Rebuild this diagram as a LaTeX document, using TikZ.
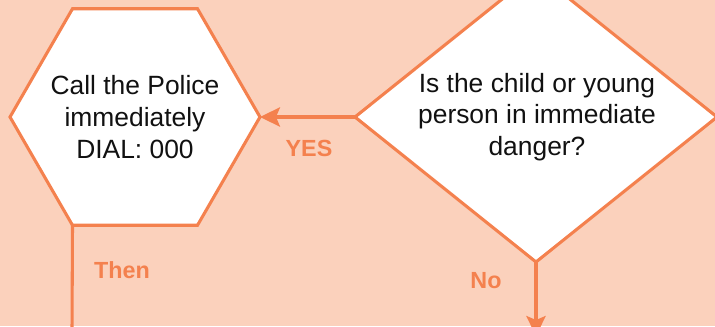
\documentclass[tikz,border=0pt]{standalone}
\usepackage{fontspec}
\setmainfont{Liberation Sans}
\usetikzlibrary{shapes.geometric,arrows.meta}
\definecolor{bgpeach}{HTML}{FBD1BC}
\definecolor{flowor}{HTML}{F4814E}
\definecolor{txtdark}{HTML}{111111}
\tikzset{
  shapeline/.style={draw=flowor, line width=2.3pt, fill=white},
  bodytext/.style={text=txtdark, align=center, font=\fontsize{19.8pt}{23.8pt}\selectfont, inner sep=0pt},
  flowlabel/.style={text=flowor, font=\bfseries\fontsize{17.5pt}{20pt}\selectfont, inner sep=0pt},
  flowline/.style={draw=flowor, line width=2.3pt},
  flowarrow/.style={flowline, -{Stealth[length=15pt, width=14.5pt, inset=3pt]}}
}
\begin{document}
\begin{tikzpicture}[x=0.75pt, y=0.75pt]
  \useasboundingbox (0,0) rectangle (715,326);
  \fill[bgpeach] (0,0) rectangle (715,326);
  \clip (0,0) rectangle (715,326);
  % hexagon
  \node[shapeline, regular polygon, regular polygon sides=6, minimum size=187.5pt, inner sep=0pt, outer sep=0pt] (hex) at (135,209) {};
  \node[bodytext] (hextext) at (135,209) {Call the Police\\immediately\\DIAL: 000};
  % diamond
  \node[shapeline, diamond, minimum width=271.5pt, minimum height=217.5pt, inner sep=0pt, outer sep=0pt] (dia) at (536,209) {};
  \node[bodytext] (diatext) at (537,209) {Is the child or young\\person in immediate\\danger?};
  % connectors
  \draw[flowarrow] (dia.west) -- (hex.east);
  \coordinate (hexdown) at (72,-5);
  \draw[flowline] (hex.240) -- (hexdown);
  \coordinate (diadown) at (536,-10);
  \draw[flowarrow] (dia.south) -- (diadown);
  % labels
  \node[flowlabel] (yes) at (309,178) {YES};
  \node[flowlabel] (then) at (122,56) {Then};
  \node[flowlabel] (no) at (486,45) {No};
\end{tikzpicture}
\end{document}
